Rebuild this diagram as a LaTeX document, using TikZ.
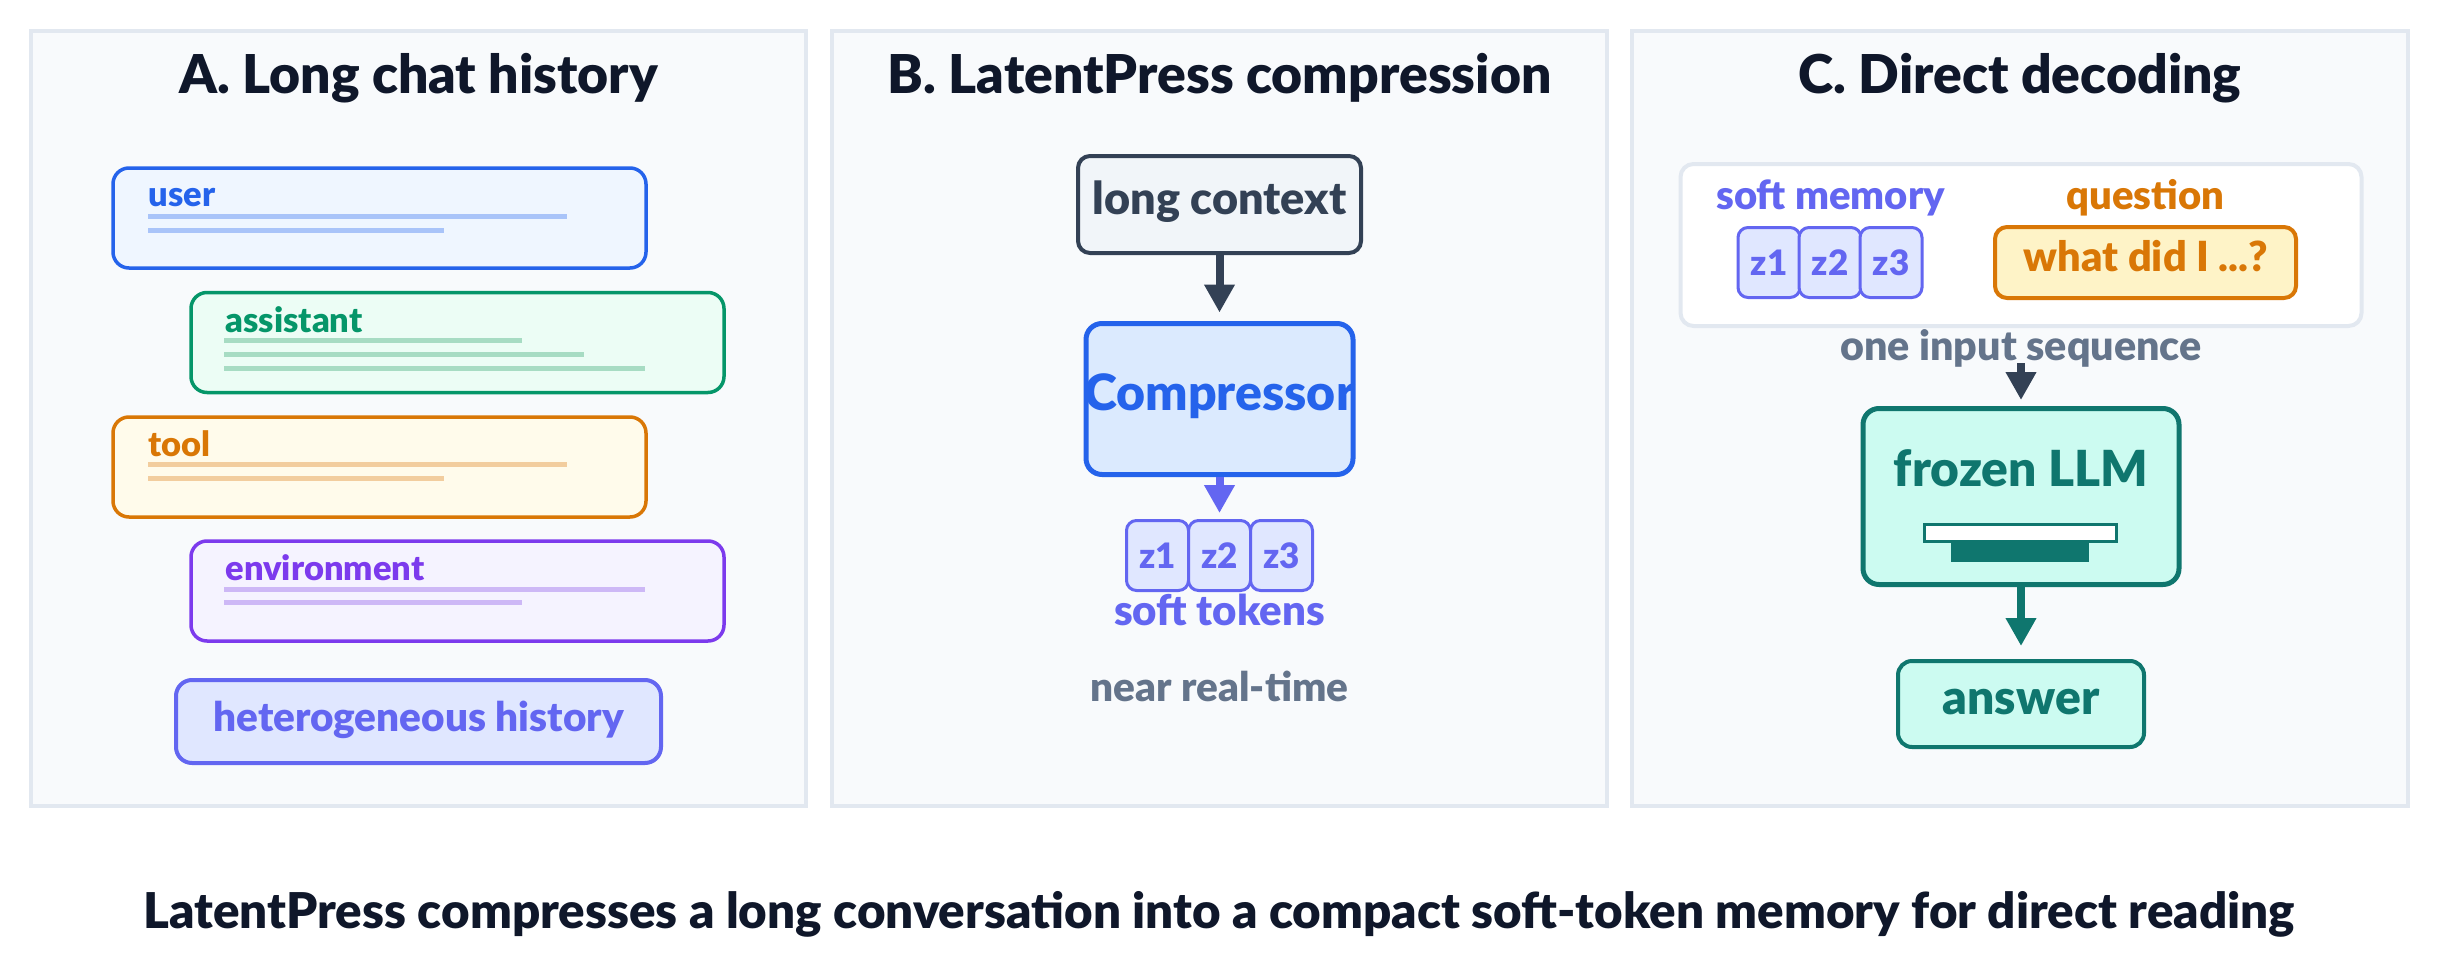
\documentclass[tikz,border=0pt]{standalone}
\usepackage{fontspec}
\setmainfont{Lato}[BoldFont={Lato Black}]
\usetikzlibrary{arrows.meta}
\definecolor{ink}{HTML}{0F172A}
\definecolor{panelbg}{HTML}{F8FAFC}
\definecolor{panelline}{HTML}{E2E8F0}
\definecolor{blue}{HTML}{2563EB}
\definecolor{bluebg}{HTML}{EFF6FF}
\definecolor{blueln}{HTML}{A9C4F9}
\definecolor{compbg}{HTML}{DBEAFE}
\definecolor{green}{HTML}{059669}
\definecolor{greenbg}{HTML}{ECFDF5}
\definecolor{greenln}{HTML}{A7DCC3}
\definecolor{amber}{HTML}{D97706}
\definecolor{amberbg}{HTML}{FFFBEB}
\definecolor{amberln}{HTML}{F2CD9E}
\definecolor{questbg}{HTML}{FEF3C7}
\definecolor{violet}{HTML}{7C3AED}
\definecolor{violetbg}{HTML}{F5F3FF}
\definecolor{violetln}{HTML}{CDB8F6}
\definecolor{indigo}{HTML}{6366F1}
\definecolor{indigobg}{HTML}{E0E7FF}
\definecolor{slate}{HTML}{334155}
\definecolor{slatebg}{HTML}{F1F5F9}
\definecolor{slategray}{HTML}{64748B}
\definecolor{teal}{HTML}{0F766E}
\definecolor{tealbg}{HTML}{CCFBF1}
\newcommand{\bfsize}[1]{\fontsize{#1}{#1}\selectfont\bfseries}
\tikzset{
  panel/.style={draw=panelline, fill=panelbg, line width=4pt},
  title/.style={anchor=base, text=ink, font=\bfsize{53.5}},
  msg/.style={rounded corners=16pt, line width=3.5pt, minimum width=533pt, minimum height=100pt, inner sep=0pt},
  role/.style={anchor=base west, font=\bfsize{34.5}},
  txt/.style={anchor=base, font=\bfsize{40}},
  txtline/.style={line width=5pt},
  tok/.style={draw=indigo, fill=indigobg, line width=3pt, rounded corners=10pt, minimum width=62pt, minimum height=70pt, inner sep=0pt, text=indigo, font=\bfsize{35}},
  arr/.style={line width=8pt, -{Triangle[length=28pt,width=29pt]}}
}
\begin{document}
\begin{tikzpicture}[x=1pt,y=-1pt]
\fill[white] (0,0) rectangle (2438,971);
\useasboundingbox (0,0) rectangle (2438,971);
% panels
\draw[panel] (31,31) rectangle (806,806);
\draw[panel] (832,31) rectangle (1607,806);
\draw[panel] (1632,31) rectangle (2408,806);
\node[title] (titA) at (418.5,94) {A. Long chat history};
\node[title] (titB) at (1219.5,94) {B. LatentPress compression};
\node[title] (titC) at (2020,94) {C. Direct decoding};
% A: history
\node[msg, draw=blue, fill=bluebg] (user) at (379.5,218) {};
\node[role, text=blue] (userlbl) at (145,206.5) {user};
\draw[txtline, blueln] (148,216) -- (567,216);
\draw[txtline, blueln] (148,230) -- (444,230);
\node[msg, draw=green, fill=greenbg] (asst) at (457.5,342.5) {};
\node[role, text=green] (asstlbl) at (222,332) {assistant};
\draw[txtline, greenln] (224,340) -- (522,340);
\draw[txtline, greenln] (224,354) -- (584,354);
\draw[txtline, greenln] (224,368) -- (645,368);
\node[msg, draw=amber, fill=amberbg] (tool) at (379.5,467) {};
\node[role, text=amber] (toollbl) at (145,456) {tool};
\draw[txtline, amberln] (148,464) -- (567,464);
\draw[txtline, amberln] (148,478) -- (444,478);
\node[msg, draw=violet, fill=violetbg] (env) at (457.5,591) {};
\node[role, text=violet] (envlbl) at (222,580.5) {environment};
\draw[txtline, violetln] (224,589) -- (645,589);
\draw[txtline, violetln] (224,602.5) -- (522,602.5);
\node[msg, draw=indigo, fill=indigobg, line width=4pt, minimum width=485pt, minimum height=83pt] (hist) at (418.5,721.5) {};
\node[txt, text=indigo, font=\bfsize{40.5}] (histlbl) at (418.5,731) {heterogeneous history};
% B: compression
\node[draw=slate, fill=slatebg, line width=4pt, rounded corners=12pt, minimum width=283pt, minimum height=97pt, inner sep=0pt] (ctx) at (1219.5,204.5) {};
\node[txt, text=slate, font=\bfsize{45}] (ctxlbl) at (1219.5,214.5) {long context};
\node[draw=blue, fill=compbg, line width=5pt, rounded corners=16pt, minimum width=267pt, minimum height=151pt, inner sep=0pt] (comp) at (1219.5,399) {};
\node[txt, text=blue, font=\bfsize{50}] (complbl) at (1219.5,410.6) {Compressor};
\foreach \i/\x in {1/1157.5,2/1219.5,3/1281.5}
  \node[tok] (bz\i) at (\x,555.5) {z\i};
\node[txt, text=indigo, font=\bfsize{42}] (softlbl) at (1219.5,625) {soft tokens};
\node[txt, text=slategray, font=\bfsize{40.5}] (rtlbl) at (1219.5,701) {near real-time};
\draw[arr, slate, shorten >=8.5pt] (ctx) -- (comp);
\draw[arr, indigo, shorten >=6pt] (comp) -- (bz2);
% C: decoding
\node[draw=panelline, fill=white, line width=4pt, rounded corners=13pt, minimum width=681pt, minimum height=162pt, inner sep=0pt] (seq) at (2021,245) {};
\node[txt, text=indigo] (memlbl) at (1830.5,209) {soft memory};
\foreach \i/\x in {1/1769,2/1830,3/1891}
  \node[tok] (cz\i) at (\x,262.5) {z\i};
\node[txt, text=amber] (qlbl) at (2145.5,209) {question};
\node[draw=amber, fill=questbg, line width=4pt, rounded corners=12pt, minimum width=301pt, minimum height=71pt, inner sep=0pt] (quest) at (2145.5,262.5) {};
\node[txt, text=amber, font=\bfsize{41.5}] (questlbl) at (2146,271) {what did I ...?};
\node[txt, text=slategray, font=\bfsize{41.2}] (seqlbl) at (2021,360) {one input sequence};
\node[draw=teal, fill=tealbg, line width=5pt, rounded corners=16pt, minimum width=316pt, minimum height=176pt, inner sep=0pt] (llm) at (2021,496.5) {};
\node[txt, text=teal, font=\bfsize{49.7}] (llmlbl) at (2021,486.5) {frozen LLM};
\draw[draw=teal, fill=white, line width=3pt] (1924.5,524.5) rectangle (2116.5,541.5);
\fill[teal] (1951,543) rectangle (2089,562);
\node[draw=teal, fill=tealbg, line width=4pt, rounded corners=14pt, minimum width=246pt, minimum height=86pt, inner sep=0pt] (ans) at (2021,704) {};
\node[txt, text=teal, font=\bfsize{48}] (anslbl) at (2021,714) {answer};
\draw[arr, slate, shorten >=6pt] ([yshift=-3pt]seqlbl.base) -- (llm);
\draw[arr, teal, shorten >=13pt] (llm) -- (ans);
% caption
\node[anchor=base, text=ink, font=\bfsize{49.3}] (caption) at (1219,928) {LatentPress compresses a long conversation into a compact soft-token memory for direct reading};
\end{tikzpicture}
\end{document}
